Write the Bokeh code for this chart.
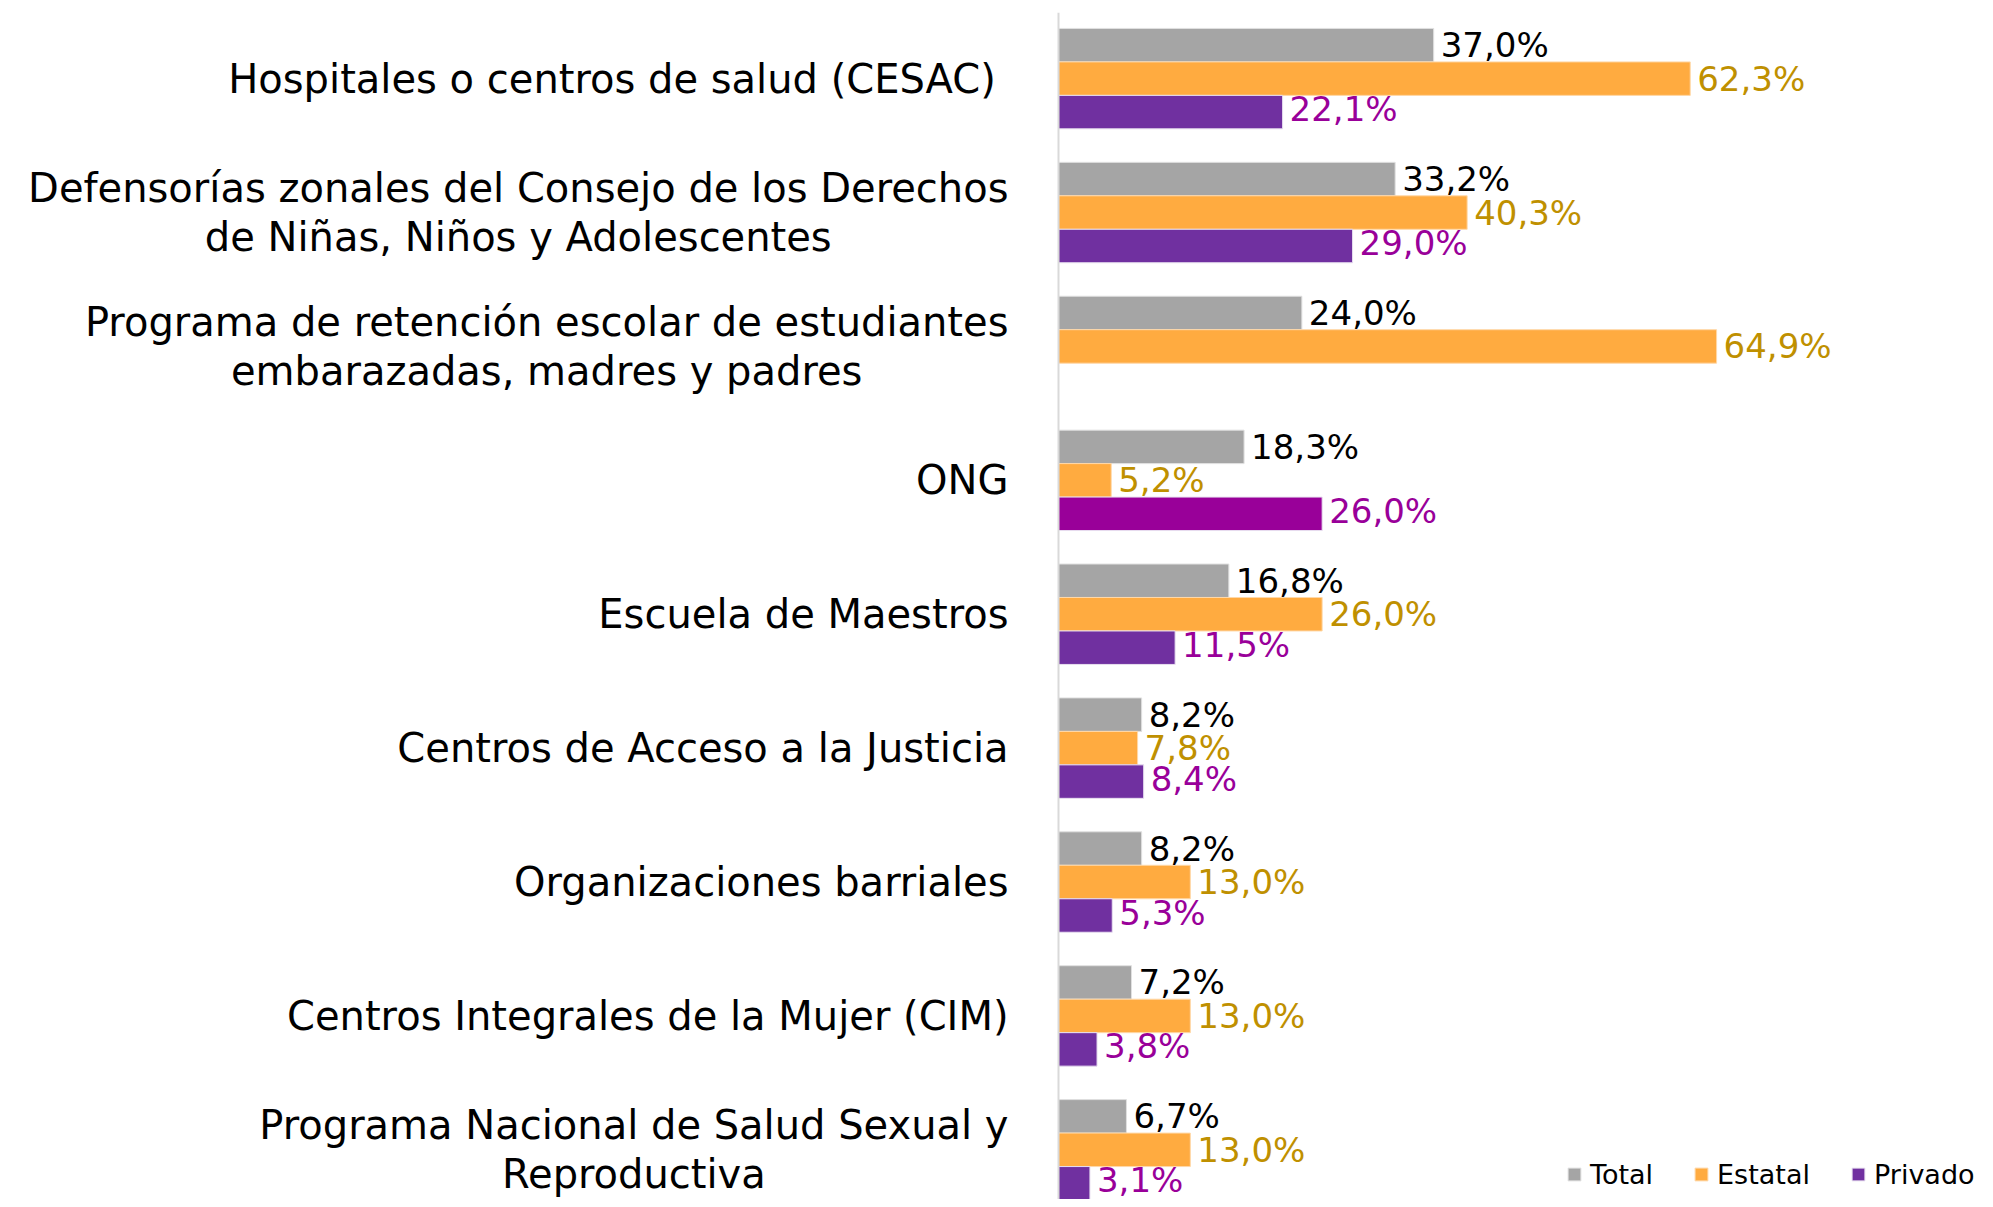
from bokeh.plotting import figure
from bokeh.models import Range1d, ColumnDataSource, Legend, LegendItem, Span
from bokeh.core.properties import value
from bokeh.embed import file_html
from bokeh.resources import INLINE

categories = [
    "Hospitales o centros de salud  (CESAC)",
    "Defensorías zonales del Consejo de los Derechos\nde Niñas, Niños y Adolescentes",
    "Programa de retención escolar de estudiantes\nembarazadas, madres y padres",
    "ONG",
    "Escuela de Maestros",
    "Centros de Acceso a la Justicia",
    "Organizaciones barriales",
    "Centros Integrales de la Mujer (CIM)",
    "Programa Nacional de Salud Sexual y\nReproductiva",
]
total = [37.0, 33.2, 24.0, 18.3, 16.8, 8.2, 8.2, 7.2, 6.7]
estatal = [62.3, 40.3, 64.9, 5.2, 26.0, 7.8, 13.0, 13.0, 13.0]
privado = [22.1, 29.0, None, 26.0, 11.5, 8.4, 5.3, 3.8, 3.1]
series_names = ["Total", "Estatal", "Privado"]

FONT = "DejaVu Sans"
C_TOTAL = "#A5A5A5"
C_EST = "#FFAB40"
C_PRIV = "#7030A0"
C_PRIV_HI = "#990099"

def fmt(v):
    return f"{v:.1f}%".replace(".", ",")

pos = list(range(len(categories)))

p = figure(width=1985, height=1199, output_backend="svg", toolbar_location=None,
           x_range=Range1d(-104.34, 91.42), y_range=Range1d(8.371, -0.494),
           x_axis_location=None, y_axis_location=None,
           min_border_left=0, min_border_right=0, min_border_top=12, min_border_bottom=0)
p.xgrid.visible = False
p.ygrid.visible = False
p.outline_line_color = None
p.background_fill_color = "white"
p.border_fill_color = "white"

# axis line
p.add_layout(Span(location=0, dimension="height", line_color="#D9D9D9", line_width=2))

bh = 0.25
src_t = ColumnDataSource(dict(y=[i - bh for i in pos], v=total, lab=[fmt(v) for v in total]))
src_e = ColumnDataSource(dict(y=[i for i in pos], v=estatal, lab=[fmt(v) for v in estatal]))
pi = [i for i, v in zip(pos, privado) if v is not None]
pv = [v for v in privado if v is not None]
pc = [C_PRIV_HI if categories[i] == "ONG" else C_PRIV for i in pi]
src_p = ColumnDataSource(dict(y=[i + bh for i in pi], v=pv, lab=[fmt(v) for v in pv], c=pc))

r_t = p.hbar(y="y", right="v", left=0, height=bh, source=src_t, fill_color=C_TOTAL, line_color="#E0E0E0", line_width=1)
r_e = p.hbar(y="y", right="v", left=0, height=bh, source=src_e, fill_color=C_EST, line_color="#FFD8A8", line_width=1)
r_p = p.hbar(y="y", right="v", left=0, height=bh, source=src_p, fill_color="c", line_color="#E8E0F0", line_width=1)

lab_size = "34px"
p.text(x="v", y="y", text="lab", source=src_t, x_offset=7, text_baseline="middle", text_align="left",
       text_font=value(FONT), text_font_size=lab_size, text_color="black")
p.text(x="v", y="y", text="lab", source=src_e, x_offset=7, text_baseline="middle", text_align="left",
       text_font=value(FONT), text_font_size=lab_size, text_color="#BF9000")
p.text(x="v", y="y", text="lab", source=src_p, x_offset=7, y_offset=-3, text_baseline="middle", text_align="left",
       text_font=value(FONT), text_font_size=lab_size, text_color=C_PRIV_HI)

# category labels
src_c = ColumnDataSource(dict(x=[0] * len(pos), y=pos, t=categories))
p.text(x="x", y="y", text="t", source=src_c, x_offset=-50, anchor=value("center_right"),
       text_align="center", text_baseline="middle", text_line_height=1.06,
       text_font=value(FONT), text_font_size="40px", text_color="black")

legend = Legend(items=[
    LegendItem(label=series_names[0], renderers=[r_t], index=0),
    LegendItem(label=series_names[1], renderers=[r_e], index=0),
    LegendItem(label=series_names[2], renderers=[r_p], index=0),
], orientation="horizontal", location=(1566, 8))
legend.label_text_font = FONT
legend.label_text_font_size = "27px"
legend.label_text_color = "black"
legend.glyph_width = 16
legend.glyph_height = 16
legend.label_standoff = 8
legend.label_height = 34
legend.spacing = 40
legend.padding = 0
legend.margin = 0
legend.border_line_color = None
legend.background_fill_alpha = 0
p.add_layout(legend)

open("out.html", "w").write(file_html(p, INLINE))
